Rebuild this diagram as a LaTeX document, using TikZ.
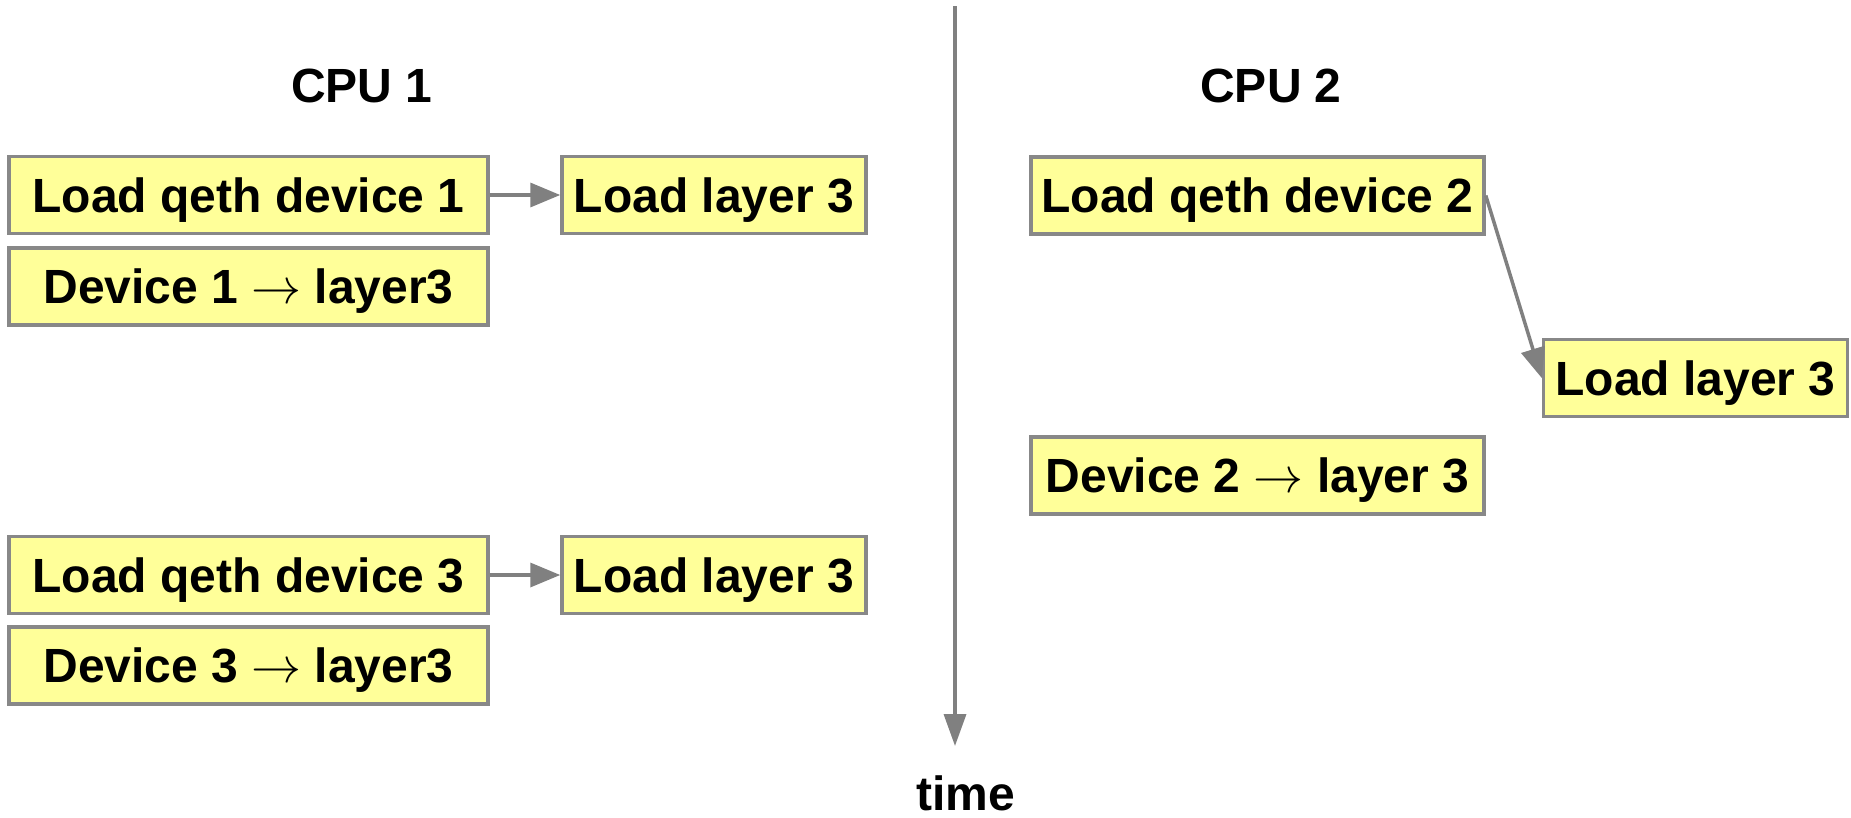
\documentclass[tikz,border=0pt]{standalone}
\usepackage{fontspec}
\setmainfont{Liberation Sans}
\usetikzlibrary{arrows.meta}
\definecolor{boxfill}{HTML}{FFFF99}
\definecolor{boxline}{HTML}{888888}
\definecolor{arrline}{HTML}{808080}
\newcommand{\rarr}{\resizebox{50pt}{!}{$\rightarrow$}}
\begin{document}
\begin{tikzpicture}[x=1pt,y=-1pt,
  taskbox/.style={draw=boxline, line width=3.5pt, fill=boxfill, inner sep=0pt,
    minimum height=77pt, font=\fontsize{48}{52}\selectfont\bfseries,
    text depth=4pt, text height=38pt},
  wide/.style={taskbox, minimum width=479pt},
  mid/.style={taskbox, minimum width=453pt},
  narrow/.style={taskbox, minimum width=304pt},
  lbl/.style={font=\fontsize{48}{52}\selectfont\bfseries, inner sep=0pt},
  conn/.style={draw=arrline, line width=3.5pt, -{Triangle[width=24pt,length=30pt]}}]
\useasboundingbox (0,0) rectangle (1851,817);
\node[lbl] (cpu1) at (362,86) {CPU 1};
\node[lbl] (cpu2) at (1271,86) {CPU 2};
\node[wide] (q1) at (248.5,195) {Load qeth device 1};
\node[narrow] (l1) at (714,195) {Load layer 3};
\node[wide] (d1) at (248.5,286.5) {Device 1 \rarr{} layer3};
\node[wide] (q3) at (248.5,575) {Load qeth device 3};
\node[narrow] (l3) at (714,575) {Load layer 3};
\node[wide] (d3) at (248.5,665.5) {Device 3 \rarr{} layer3};
\node[mid] (q2) at (1257.5,195.5) {Load qeth device 2};
\node[narrow] (l2) at (1695.5,378) {Load layer 3};
\node[mid] (d2) at (1257.5,475.5) {Device 2 \rarr{} layer 3};
\coordinate (ttop) at (955,6);
\coordinate (tbot) at (955,746);
\node[lbl] (time) at (966,793) {time};
\draw[conn] (q1.east) -- (l1.west);
\draw[conn] (q3.east) -- (l3.west);
\draw[conn] (q2.east) -- (l2.west);
\draw[draw=arrline, line width=3.5pt, -{Triangle[width=22pt,length=32pt]}] (ttop) -- (tbot);
\end{tikzpicture}
\end{document}
